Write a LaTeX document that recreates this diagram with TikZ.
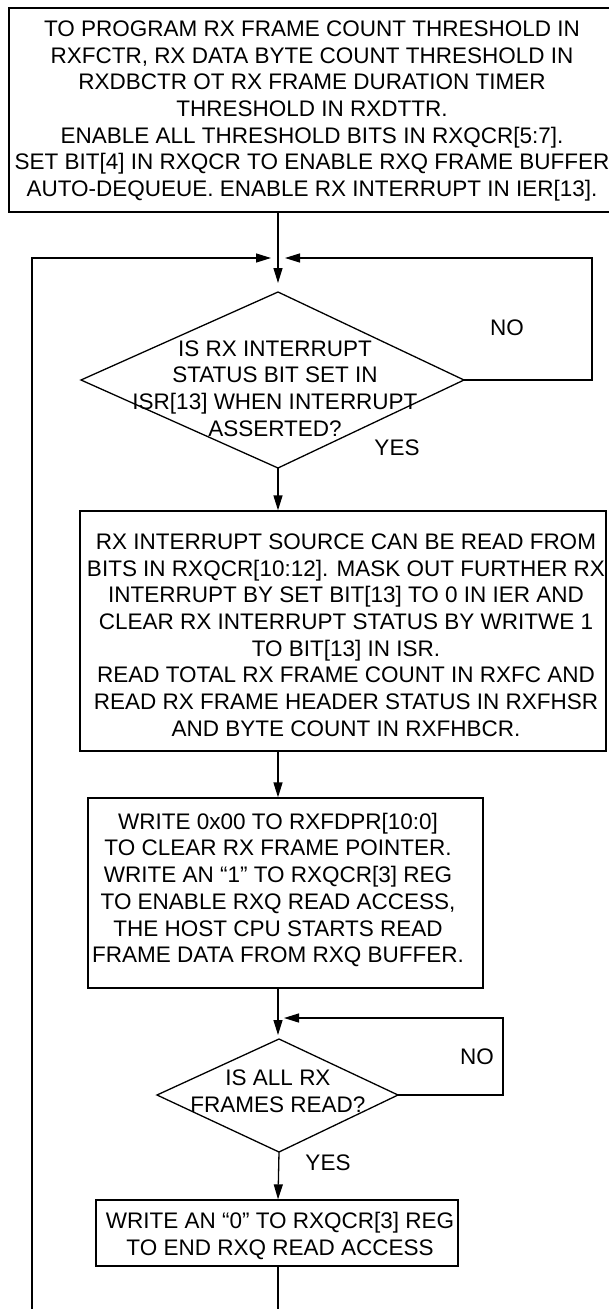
\documentclass[tikz,border=0pt]{standalone}
\usepackage{fontspec}
\setmainfont{Liberation Sans}
\usetikzlibrary{arrows.meta}
\begin{document}
\begin{tikzpicture}[x=1pt,y=-1pt, line width=1.3pt,
  >={Triangle[length=15pt,width=9pt]},
  box/.style={draw, inner sep=0pt},
  txt/.style={align=center, font=\fontsize{22.5}{26.7}\selectfont, inner sep=0pt},
  lbl/.style={font=\fontsize{22.5}{26.7}\selectfont, inner sep=0pt}]
\fill[white] (0,0) rectangle (608,1309);
\useasboundingbox (0,0) rectangle (608,1309);
% boxes
\node[box, minimum width=607pt, minimum height=204pt] (b1) at (312.5,110) {};
\node[txt] (t1) at (312,111) {TO PROGRAM RX FRAME COUNT THRESHOLD IN\\RXFCTR, RX DATA BYTE COUNT THRESHOLD IN\\RXDBCTR OT RX FRAME DURATION TIMER\\THRESHOLD IN RXDTTR.\\ENABLE ALL THRESHOLD BITS IN RXQCR[5:7].\\SET BIT[4] IN RXQCR TO ENABLE RXQ FRAME BUFFER\\AUTO-DEQUEUE. ENABLE RX INTERRUPT IN IER[13].};
\node[box, minimum width=526pt, minimum height=240pt] (b2) at (343,631) {};
\node[txt] (t2) at (346,635) {RX INTERRUPT SOURCE CAN BE READ FROM\\BITS IN RXQCR[10:12]. MASK OUT FURTHER RX\\INTERRUPT BY SET BIT[13] TO 0 IN IER AND\\CLEAR RX INTERRUPT STATUS BY WRITWE 1\\TO BIT[13] IN ISR.\\READ TOTAL RX FRAME COUNT IN RXFC AND\\READ RX FRAME HEADER STATUS IN RXFHSR\\AND BYTE COUNT IN RXFHBCR.};
\node[box, minimum width=395pt, minimum height=190pt] (b3) at (285.5,893) {};
\node[txt] (t3) at (278,890) {WRITE 0x00 TO RXFDPR[10:0]\\TO CLEAR RX FRAME POINTER.\\WRITE AN “1” TO RXQCR[3] REG\\TO ENABLE RXQ READ ACCESS,\\THE HOST CPU STARTS READ\\FRAME DATA FROM RXQ BUFFER.};
\node[box, minimum width=362pt, minimum height=66pt] (b4) at (277,1233) {};
\node[txt] (t4) at (280,1236) {WRITE AN “0” TO RXQCR[3] REG\\TO END RXQ READ ACCESS};
% diamond 1
\coordinate (d1t) at (278,292);
\coordinate (d1r) at (464,380);
\coordinate (d1b) at (278,468);
\coordinate (d1l) at (81,380);
\draw (d1t) -- (d1r) -- (d1b) -- (d1l) -- cycle;
\node[txt] (q1) at (275,388.5) {IS RX INTERRUPT\\STATUS BIT SET IN\\ISR[13] WHEN INTERRUPT\\ASSERTED?};
% diamond 2
\coordinate (d2t) at (279,1039);
\coordinate (d2r) at (398,1095);
\coordinate (d2b) at (279,1152);
\coordinate (d2l) at (157,1095);
\draw (d2t) -- (d2r) -- (d2b) -- (d2l) -- cycle;
\node[txt] (q2) at (278,1091) {IS ALL RX\\FRAMES READ?};
% junction
\coordinate (jd) at (278,283);
\coordinate (n1a) at (592,380);
\coordinate (n1b) at (592,258);
\coordinate (n1tip) at (285,258);
\coordinate (lb) at (32,1309);
\coordinate (lt) at (32,258);
\coordinate (ltip) at (271,258);
\coordinate (d2tip) at (278,1035);
\coordinate (n2a) at (503,1095);
\coordinate (n2b) at (503,1018);
\coordinate (n2tip) at (284,1018);
\coordinate (endb) at (278,1309);
% connectors
\draw[->] (b1.south -| jd) -- (jd);
\draw[->] (d1r) -- (n1a) -- (n1b) -- (n1tip);
\draw[->] (lb) -- (lt) -- (ltip);
\draw[->] (d1b) -- (b2.north -| d1b);
\draw[->] (b2.south -| d1b) -- (b3.north -| d1b);
\draw[->] (b3.south -| d1b) -- (d2tip);
\draw[->] (d2r) -- (n2a) -- (n2b) -- (n2tip);
\draw[->] (d2b) -- (b4.north -| d1b);
\draw (b4.south -| d1b) -- (endb);
% labels
\node[lbl] (no1) at (507,328) {NO};
\node[lbl] (yes1) at (397,448) {YES};
\node[lbl] (no2) at (477,1057) {NO};
\node[lbl] (yes2) at (328,1163) {YES};
\end{tikzpicture}
\end{document}
